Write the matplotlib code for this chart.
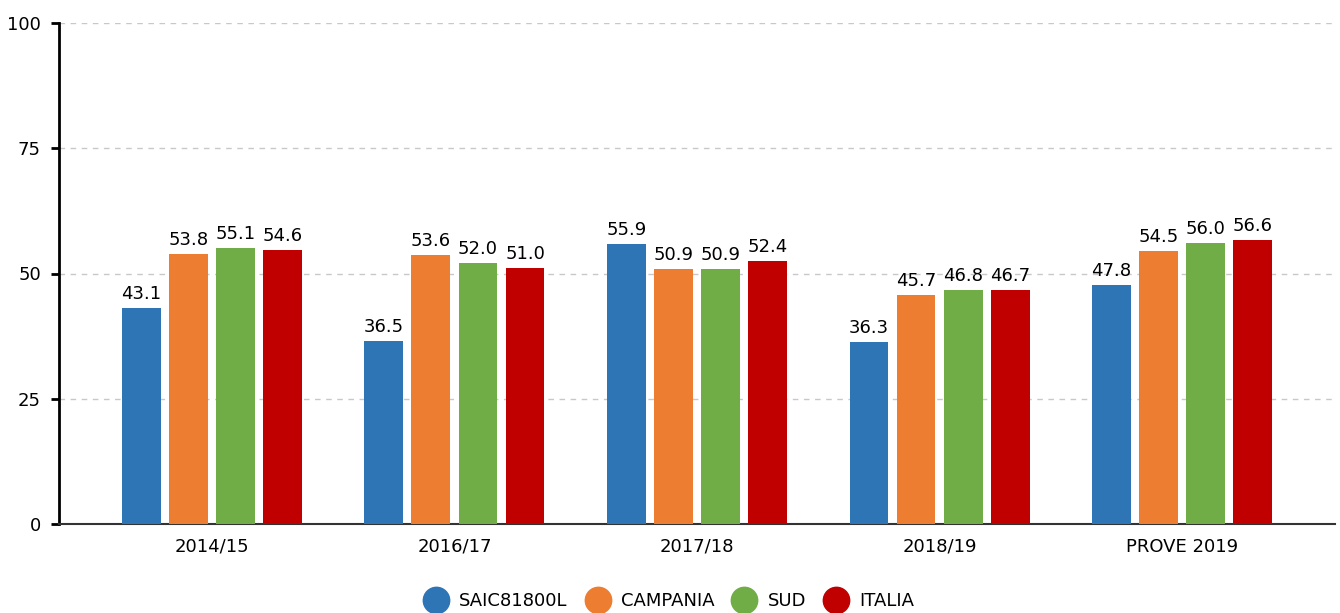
import matplotlib.pyplot as plt
import numpy as np

categories = ['2014/15', '2016/17', '2017/18', '2018/19', 'PROVE 2019']
series = ['SAIC81800L', 'CAMPANIA', 'SUD', 'ITALIA']
saic = [43.1, 36.5, 55.9, 36.3, 47.8]
campania = [53.8, 53.6, 50.9, 45.7, 54.5]
sud = [55.1, 52.0, 50.9, 46.8, 56.0]
italia = [54.6, 51.0, 52.4, 46.7, 56.6]
colors = ['#2e75b6', '#ed7d31', '#70ad47', '#c00000']

values = [saic, campania, sud, italia]
fs = 13

fig = plt.figure(figsize=(13.4, 6.13), dpi=100)
ax = fig.add_axes([59/1340, 1 - 524/613, 1276/1340, 501/613])

x = np.arange(len(categories))
width = 0.16
step = 0.194
for i, (name, vals) in enumerate(zip(series, values)):
    pos = x + (i - 1.5) * step
    ax.bar(pos, vals, width, color=colors[i], label=name, zorder=3)
    for p, v in zip(pos, vals):
        ax.text(p, v + 1.0, f'{v:.1f}', ha='center', va='bottom', fontsize=fs)

ax.set_xlim(-0.63, 4.63)
ax.set_ylim(0, 100)
ax.set_yticks([0, 25, 50, 75, 100])
ax.set_xticks(x)
ax.set_xticklabels(categories, fontsize=fs)
ax.tick_params(axis='y', labelsize=fs, length=6, width=2, pad=7)
ax.tick_params(axis='x', length=0, pad=10)
ax.grid(axis='y', color='#c8c8c8', linestyle=(0, (4, 4)), linewidth=1, zorder=0)
ax.spines['top'].set_visible(False)
ax.spines['right'].set_visible(False)
ax.spines['left'].set_linewidth(2)
ax.spines['bottom'].set_linewidth(1.5)
ax.spines['bottom'].set_color('#333333')

handles = [plt.Line2D([], [], marker='o', linestyle='', markersize=19, color=c) for c in colors]
fig.legend(handles, series, loc='center', bbox_to_anchor=(668/1340, 1 - 601/613), ncol=4,
           frameon=False, fontsize=fs, handlelength=1.6, handletextpad=0.5, columnspacing=0.85)

fig.savefig('out.png', dpi=100)
